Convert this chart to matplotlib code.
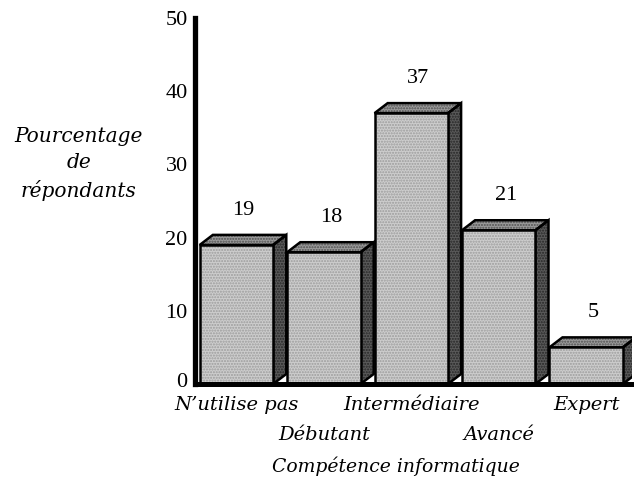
import matplotlib
matplotlib.use("Agg")
import matplotlib.pyplot as plt
import matplotlib.transforms as mtransforms
from matplotlib.patches import Polygon

categories = ["N’utilise pas", "Débutant", "Intermédiaire", "Avancé", "Expert"]
values = [19, 18, 37, 21, 5]
y_ticks = [0, 10, 20, 30, 40, 50]

num_font = ["Liberation Serif", "DejaVu Serif"]
label_font = ["DejaVu Serif"]
plt.rcParams["font.family"] = num_font

fig = plt.figure(figsize=(6.34, 4.82), dpi=100)
ax = fig.add_axes([0.3068, 0.2033, 0.690, 0.7594])

width = 0.84
dx, dy = 0.15, 1.37         # depth of the 3-D extrusion (x in category units, y in data units)
front_c, top_c, side_c = "#cdcdcd", "#9a9a9a", "#5a5a5a"


def face(pts, fc, hatch_col, z):
    # textured fill first, then a crisp black outline
    ax.add_patch(Polygon(pts, closed=True, facecolor=fc, edgecolor=hatch_col,
                         hatch="......", linewidth=0, zorder=z))
    ax.add_patch(Polygon(pts, closed=True, fill=False, edgecolor="black",
                         linewidth=1.8, zorder=z + 0.1, joinstyle="miter"))


for i, v in enumerate(values):
    x0, x1 = i - width / 2, i + width / 2
    face([(x0, 0), (x1, 0), (x1, v), (x0, v)], front_c, "#9c9c9c", 3)
    face([(x1, 0), (x1 + dx, dy), (x1 + dx, v + dy), (x1, v)], side_c, "#262626", 2)
    face([(x0, v), (x1, v), (x1 + dx, v + dy), (x0 + dx, v + dy)], top_c, "#505050", 2)
    ax.text(i + 0.08, v + 4.7, str(v), ha="center", va="center", fontsize=16)

ax.set_xlim(-0.48, 4.525)
ax.set_ylim(0, 50)

for s in ("top", "right"):
    ax.spines[s].set_visible(False)
ax.spines["left"].set_linewidth(3.8)
ax.spines["bottom"].set_linewidth(3.6)
ax.spines["bottom"].set_zorder(5)

ax.set_yticks(y_ticks)
ax.set_yticklabels([str(t) for t in y_ticks], fontsize=16)
ax.tick_params(axis="y", length=0, pad=5)
# lift the "0" a little so it sits clear of the category names below
zero = ax.get_yticklabels()[0]
zero.set_transform(zero.get_transform()
                   + mtransforms.ScaledTranslation(0, 3 / 72, fig.dpi_scale_trans))

ax.set_xticks(range(len(categories)))
ax.set_xticklabels([])
ax.tick_params(axis="x", length=0)
data_x_fig_y = mtransforms.blended_transform_factory(ax.transData, fig.transFigure)
for i, lab in enumerate(categories):
    y_px = 405 if i % 2 == 0 else 435
    ax.text(i, 1 - y_px / 482, lab, transform=data_x_fig_y,
            ha="center", va="center", fontsize=14, style="italic", family=label_font)

fig.text(396 / 634, 1 - 466 / 482, "Compétence informatique", ha="center",
         va="center", fontsize=13.5, style="italic", family=label_font)
fig.text(79 / 634, 1 - 164 / 482, "Pourcentage\nde\nrépondants", ha="center",
         va="center", fontsize=14.5, style="italic", linespacing=1.45,
         family=label_font)

fig.savefig("out.png", dpi=100)
